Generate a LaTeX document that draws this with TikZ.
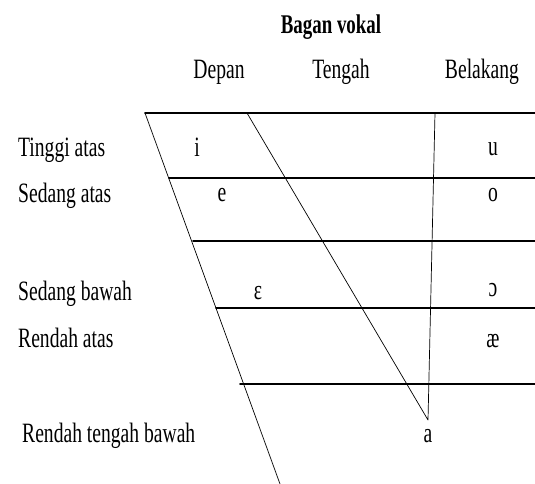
\documentclass[tikz,border=0pt]{standalone}
\usepackage{fontspec}
\setmainfont[FakeStretch=0.7]{Liberation Serif}
\usetikzlibrary{positioning}
\tikzset{
    rowline/.style = {line width=1.6pt},
    slant/.style = {line width=0.7pt},
    lbl/.style = {inner sep=0pt, anchor=base west, font=\fontsize{28}{30}\selectfont},
    vow/.style = {inner sep=0pt, anchor=base, font=\fontsize{28}{30}\selectfont},
}

\begin{document}
\begin{tikzpicture}[line cap=round,line join=round,x=1pt,y=-1pt]
    \useasboundingbox (0,0) rectangle (535,484);

    % title and column heads
    \node[vow, font=\fontsize{27}{30}\selectfont\bfseries] (title) at (331,34) {Bagan vokal};
    \node[vow] (depan) at (219,79) {Depan};
    \node[vow] (tengah) at (341,79) {Tengah};
    \node[vow] (belakang) at (482,79) {Belakang};

    % corners of the chart
    \coordinate (tl) at (145,113);
    \coordinate (bl) at (280,484);
    \coordinate (tm) at (247,113);
    \coordinate (apex) at (428,420);
    \coordinate (tb) at (435,113);
    \coordinate (r) at (535,0);
    \coordinate (h2) at (169,178);
    \coordinate (h3) at (193,241);
    \coordinate (h4) at (216,308);
    \coordinate (h5) at (240,384);

    \draw [rowline] (tl) -- (tl -| r);
    \draw [rowline] (h2) -- (h2 -| r);
    \draw [rowline] (h3) -- (h3 -| r);
    \draw [rowline] (h4) -- (h4 -| r);
    \draw [rowline] (h5) -- (h5 -| r);
    \draw [slant] (tl) -- (bl);
    \draw [slant] (tm) -- (apex) -- (tb);

    % row labels
    \node[lbl] (tinggi) at (18,156) {Tinggi atas};
    \node[lbl] (sedatas) at (18,202) {Sedang atas};
    \node[lbl] (sedbawah) at (18,300) {Sedang bawah};
    \node[lbl] (renatas) at (18,347) {Rendah atas};
    \node[lbl] (rentengah) at (22,442) {Rendah tengah bawah};

    % vowels
    \node[vow] (i) at (197,156) {i};
    \node[vow] (e) at (222,201) {e};
    \node[vow] (eps) at (258,299) {ɛ};
    \node[vow] (u) at (493,155) {u};
    \node[vow] (o) at (493,201) {o};
    \node[vow] (oo) at (493,296) {ɔ};
    \node[vow] (ae) at (493,347) {æ};
    \node[vow] (a) at (428,442) {a};
\end{tikzpicture}
\end{document}
